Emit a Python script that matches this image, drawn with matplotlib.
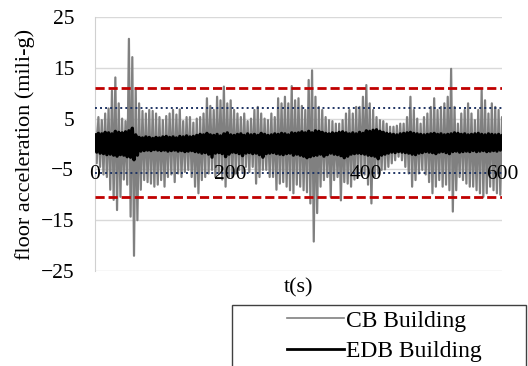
import numpy as np
import matplotlib
matplotlib.use("Agg")
import matplotlib.pyplot as plt
from matplotlib.lines import Line2D
from matplotlib.patches import Rectangle

plt.rcParams["font.family"] = ["Liberation Serif", "DejaVu Serif"]

# peaks every 5 s (mili-g); the trace goes up, then down
step = 5.0

# CB building
cb_upper = [
    4.5, 5.3, 4.7, 6.0, 7.0, 10.5, 13.1, 8.0, 5.0, 4.5, 20.7, 17.1, 11.0, 8.0, 6.5, 6.0,
    6.7, 6.5, 6.0, 5.3, 4.7, 5.5, 6.0, 6.7, 5.8, 6.8, 4.5, 5.3, 5.3, 4.2, 5.0, 5.3,
    6.0, 9.0, 7.5, 6.7, 9.3, 8.6, 11.3, 8.0, 8.6, 6.7, 6.0, 5.3, 6.0, 4.5, 5.0, 6.7,
    7.3, 6.0, 5.0, 4.7, 6.0, 5.3, 9.0, 8.0, 9.3, 8.0, 11.4, 8.6, 9.0, 7.5, 6.7, 12.6,
    14.5, 9.3, 7.3, 6.7, 5.3, 4.7, 4.5, 4.0, 4.0, 4.7, 6.0, 6.7, 6.0, 7.3, 7.3, 9.3,
    11.6, 8.0, 6.7, 5.3, 4.7, 4.5, 4.0, 3.4, 3.4, 3.6, 4.0, 4.0, 5.3, 9.3, 6.7, 5.0,
    4.0, 5.3, 6.0, 7.3, 9.0, 6.7, 7.3, 8.0, 9.3, 14.8, 7.3, 4.0, 6.0, 6.7, 8.0, 6.0,
    4.7, 6.7, 10.6, 8.6, 6.0, 8.0, 7.3, 6.7, 5.3,
]
cb_lower = [
    -3.8, -4.5, -6.0, -6.5, -9.0, -11.0, -13.0, -10.4, -7.0, -8.0, -14.3, -22.0, -15.0, -9.0, -7.1, -7.5,
    -7.8, -8.4, -8.0, -7.1, -8.4, -6.5, -6.0, -7.5, -5.8, -6.5, -5.5, -5.1, -6.5, -8.4, -9.7, -7.1,
    -6.5, -5.8, -5.1, -6.5, -5.8, -7.0, -8.4, -6.5, -6.5, -5.8, -5.1, -5.5, -4.5, -5.5, -4.5, -7.8,
    -6.5, -5.1, -5.1, -6.5, -6.5, -9.0, -7.8, -7.5, -8.4, -9.1, -9.7, -8.0, -8.4, -9.1, -9.5, -11.7,
    -19.2, -13.6, -8.4, -7.1, -6.5, -10.4, -7.1, -6.5, -11.1, -7.5, -7.8, -8.4, -7.0, -6.5, -5.8, -6.0,
    -8.0, -11.7, -6.5, -5.8, -5.1, -5.0, -4.5, -3.8, -3.2, -2.5, -3.2, -4.5, -5.8, -8.4, -7.1, -5.8,
    -5.1, -6.0, -7.5, -9.7, -8.4, -7.1, -8.4, -8.0, -9.1, -13.3, -9.1, -6.5, -7.1, -7.8, -8.4, -8.4,
    -9.1, -9.7, -10.4, -9.7, -8.4, -9.1, -9.7, -10.0, -9.7,
]

# EDB building
edb_upper = [
    1.8, 2.1, 2.0, 2.3, 2.2, 2.0, 2.5, 2.3, 2.2, 2.4, 2.6, 3.1, 1.8,
    1.3, 1.2, 1.4, 1.3, 1.1, 1.3, 1.2, 1.4, 1.5, 1.3, 1.4, 1.2, 1.5, 1.4, 1.6, 1.4, 1.5,
    1.7, 1.9, 1.8, 2.1, 1.8, 1.7, 1.9, 1.6, 2.0, 2.2, 1.8, 1.7, 1.9, 2.0, 1.7, 2.0,
    1.8, 1.9, 1.7, 2.1, 1.9, 1.7, 1.8, 2.0, 1.9, 2.1, 2.0, 1.8, 2.2, 2.1, 2.2,
    2.4, 2.2, 2.5, 2.2, 2.6, 2.5, 2.3, 2.1, 2.0, 2.2, 2.1, 2.3, 2.4, 2.2, 2.0,
    2.2, 2.0, 2.3, 2.1, 2.6, 2.5, 2.7, 2.8, 2.5, 2.3, 2.1, 2.0, 1.9, 1.8, 2.0,
    2.1, 2.2, 2.3, 2.1, 2.0, 1.9, 1.8, 1.9, 2.0, 2.1, 1.9, 2.0, 1.8, 1.9, 2.0,
    2.2, 2.1, 1.9, 2.0, 1.8, 1.9, 2.0, 2.1, 1.9, 1.8, 2.0, 1.9, 1.8, 1.9, 1.7,
]
edb_lower = [
    -1.6, -1.8, -1.9, -2.1, -2.0, -2.2, -2.4, -2.1, -2.2, -2.5, -2.6, -3.1, -2.2,
    -1.4, -1.3, -1.2, -1.3, -1.1, -1.2, -1.3, -1.2, -1.4, -1.3, -1.2, -1.4, -1.3, -1.5, -1.4, -1.3, -1.5,
    -1.6, -1.8, -1.7, -2.0, -2.6, -1.8, -1.7, -1.9, -2.5, -2.0, -1.6, -1.7, -1.9, -2.3, -1.8, -1.7,
    -1.9, -1.8, -2.1, -2.6, -1.9, -1.8, -1.7, -1.9, -2.0, -2.1, -1.9, -1.8, -2.2, -2.0, -2.2,
    -2.4, -2.7, -2.5, -2.3, -2.2, -2.0, -2.4, -2.1, -1.8, -2.0, -2.1, -2.3, -2.7, -2.4, -2.0,
    -1.9, -1.8, -1.9, -2.0, -2.2, -2.3, -2.4, -2.9, -2.2, -2.0, -1.8, -1.6, -1.7, -1.5, -1.6,
    -1.7, -1.8, -2.0, -2.1, -1.8, -1.7, -1.5, -1.6, -1.7, -1.9, -1.6, -1.5, -1.7, -1.9, -1.5,
    -1.4, -1.6, -1.5, -1.4, -1.5, -1.3, -1.5, -1.4, -1.3, -1.5, -1.4, -1.3, -1.4, -1.2, -1.2,
]

# limit lines
red_limits = [11.0, -10.5]
blue_limits = [7.1, -5.8]

x_ticks = [0, 200, 400, 600]
y_ticks = [25, 15, 5, -5, -15, -25]


def zigzag(upper, lower, step):
    # up at t, down half a step later
    up = np.asarray(upper)
    lo = np.asarray(lower)
    t = np.arange(len(up)) * step
    tt = np.empty(2 * len(up))
    yy = np.empty(2 * len(up))
    tt[0::2] = t
    tt[1::2] = t + step / 2
    yy[0::2] = up
    yy[1::2] = lo
    return tt, yy


fig = plt.figure(figsize=(5.28, 3.66), dpi=100)
ax = fig.add_axes([95 / 528, 1 - 271 / 366, 407 / 528, 254 / 366])

for y in y_ticks:
    ax.axhline(y, color="#d9d9d9", lw=1.0, zorder=0)

t_cb, y_cb = zigzag(cb_upper, cb_lower, step)
t_edb, y_edb = zigzag(edb_upper, edb_lower, step)
ax.plot(t_cb, y_cb, color="#808080", lw=1.6, zorder=2)
ax.plot(t_edb, y_edb, color="black", lw=2.4, zorder=3)

for v in red_limits:
    ax.axhline(v, color="#c00000", lw=2.0, dashes=(3.3, 1.4), zorder=4)
for v in blue_limits:
    ax.axhline(v, color="#1f3464", lw=1.4, dashes=(1.0, 1.6), zorder=4)

ax.set_xlim(0, 600)
ax.set_ylim(-25, 25)
ax.set_xticks(x_ticks)
ax.set_yticks(y_ticks)
ax.tick_params(axis="both", length=0, labelsize=15.5)
ax.tick_params(axis="x", pad=15)
ax.tick_params(axis="y", pad=15)
# x labels sit on top of the traces
ax.xaxis.set_zorder(6)

ax.spines["bottom"].set_position(("data", 0))
ax.spines["bottom"].set_visible(False)
ax.spines["left"].set_color("#d0d0d0")
ax.spines["top"].set_visible(False)
ax.spines["right"].set_visible(False)

ax.set_ylabel("floor acceleration (mili-g)", fontsize=16, labelpad=4)
ax.text(0.5, -0.03, "t(s)", transform=ax.transAxes, ha="center", va="top", fontsize=16)

# legend box, cut off by the bottom edge like the original
fig.patches.append(Rectangle((232 / 528, -0.1), 294 / 528, 0.1 + 1 - 305 / 366,
                             transform=fig.transFigure, fill=False,
                             edgecolor="#404040", lw=1.0))
handles = [Line2D([], [], color="#808080", lw=1.2),
           Line2D([], [], color="black", lw=2.0)]
fig.legend(handles, ["CB Building", "EDB Building"], loc="upper left",
           bbox_to_anchor=(287 / 528, 1 - 310 / 366), frameon=False,
           fontsize=17, handlelength=2.4, handletextpad=0.1,
           borderpad=0, borderaxespad=0, labelspacing=0.4)

fig.savefig("out.png", dpi=100)
